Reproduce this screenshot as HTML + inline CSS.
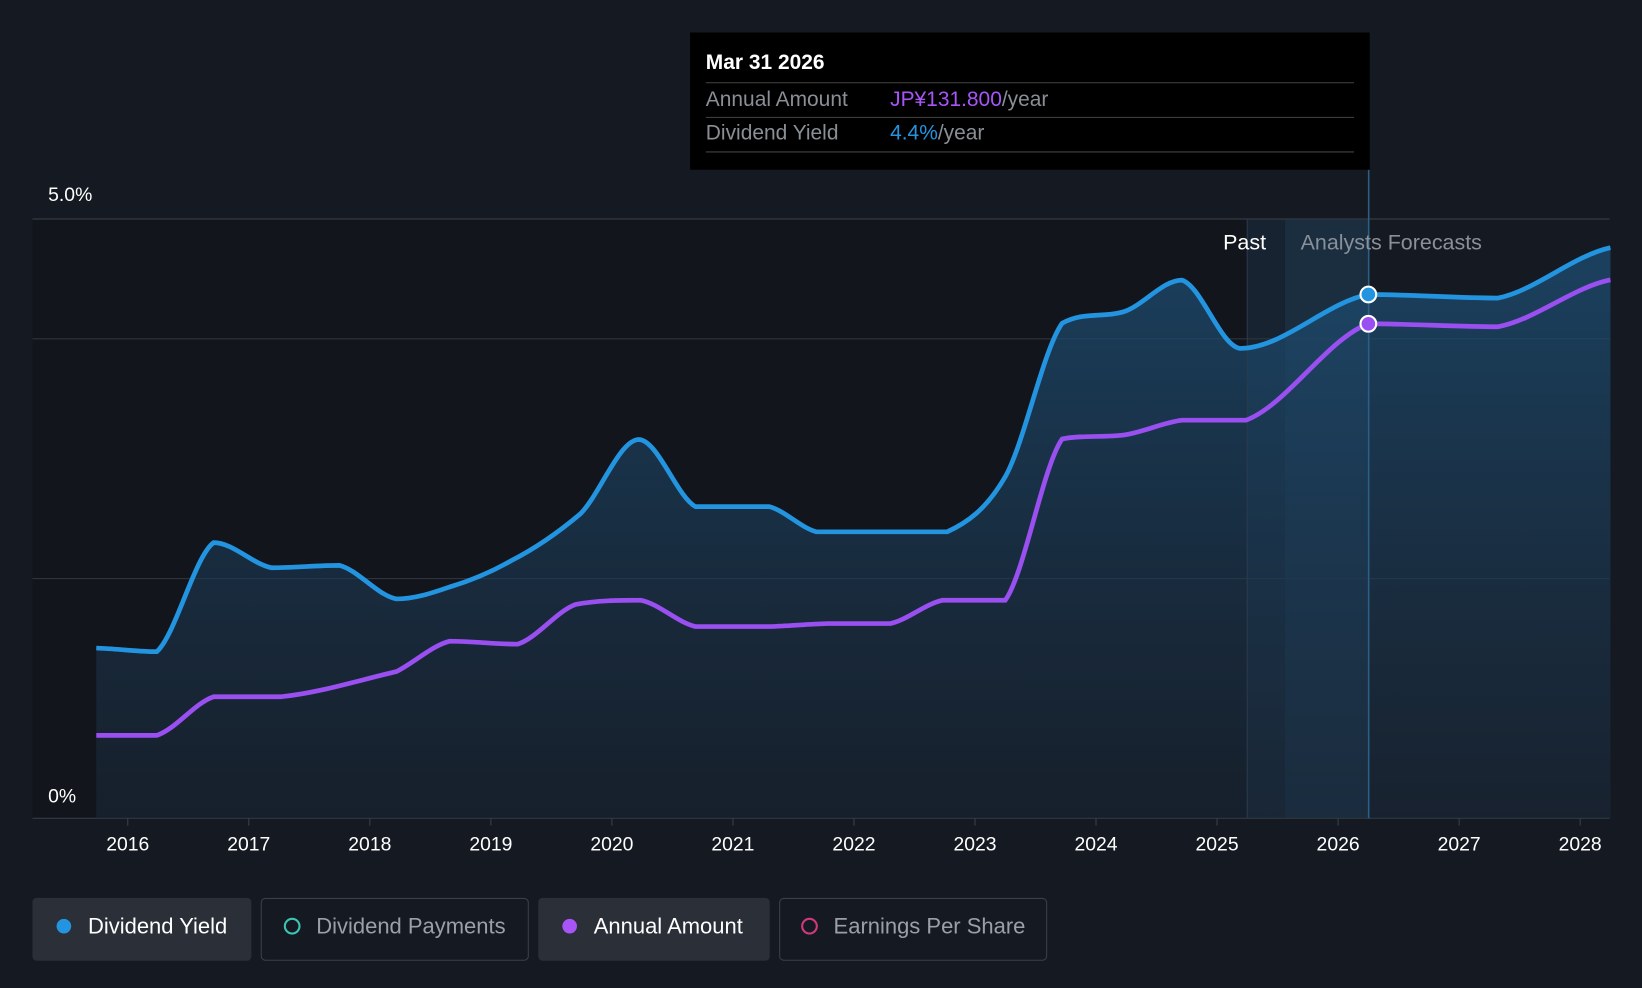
<!DOCTYPE html>
<html><head><meta charset="utf-8"><style>
html,body{margin:0;padding:0;background:#151a22;}
svg{display:block;font-family:"Liberation Sans",sans-serif;}
</style></head><body>
<svg id="chart" width="1642" height="988" viewBox="0 0 1568 943" preserveAspectRatio="none" xmlns="http://www.w3.org/2000/svg">
<defs>
<linearGradient id="fillg" x1="0" y1="0" x2="0" y2="1">
<stop offset="0" stop-color="#1d4e74" stop-opacity="0.75"/>
<stop offset="1" stop-color="#1b2a3c" stop-opacity="0.5"/>
</linearGradient>
</defs>
<rect x="0" y="0" width="1568" height="943" fill="#151a22"/>
<rect x="31" y="209" width="1160" height="572" fill="#12151b"/>
<rect x="1191" y="209" width="36" height="572" fill="#172330"/>
<rect x="1227" y="209" width="80" height="572" fill="#1b3349" opacity="0.8"/>
<g id="grid"></g>
<path id="area" fill="url(#fillg)"/>
<line x1="1191" y1="209" x2="1191" y2="781" stroke="#2a3b4d" stroke-width="1"/>
<line x1="1307" y1="162" x2="1307" y2="781" stroke="#2d5f86" stroke-width="1.5"/>
<path id="amtLine" fill="none" stroke="#9a4ff0" stroke-width="4.5"/>
<path id="yieldLine" fill="none" stroke="#2394e0" stroke-width="4.5"/>
<g id="axis"></g>
<text x="1168" y="238" fill="#ffffff" font-size="20.5">Past</text>
<text x="1242" y="238" fill="#8a9099" font-size="20.5">Analysts Forecasts</text>
<circle id="yDot" r="7.5" fill="#2394e0" stroke="#fff" stroke-width="2"/>
<circle id="aDot" r="7.5" fill="#9a4ff0" stroke="#fff" stroke-width="2"/>
<g>
<rect x="659" y="31" width="649" height="131" fill="#000"/>
<text x="674" y="66" fill="#fff" font-size="20" font-weight="bold">Mar 31 2026</text>
<line x1="674" y1="79" x2="1293" y2="79" stroke="#444"/>
<text x="674" y="101" fill="#8a8f96" font-size="20">Annual Amount</text>
<text x="850" y="101" font-size="20"><tspan fill="#a855f7">JP¥131.800</tspan><tspan fill="#8a8f96">/year</tspan></text>
<line x1="674" y1="112" x2="1293" y2="112" stroke="#444"/>
<text x="674" y="133" fill="#8a8f96" font-size="20">Dividend Yield</text>
<text x="850" y="133" font-size="20"><tspan fill="#2394e0">4.4%</tspan><tspan fill="#8a8f96">/year</tspan></text>
<line x1="674" y1="145" x2="1293" y2="145" stroke="#444"/>
</g>
<g>
<g><rect x="31" y="857" width="209" height="60" rx="4" fill="#2a2f38"/><circle cx="61" cy="884" r="7" fill="#2394e0"/><text x="84" y="891" fill="#fff" font-size="21">Dividend Yield</text></g>
<g><rect x="249.5" y="857.5" width="255" height="59" rx="4" fill="none" stroke="#3a3f48"/><circle cx="279" cy="884" r="7" fill="none" stroke="#3cc4b4" stroke-width="2"/><text x="302" y="891" fill="#9aa0a8" font-size="21">Dividend Payments</text></g>
<g><rect x="514" y="857" width="221" height="60" rx="4" fill="#2a2f38"/><circle cx="544" cy="884" r="7" fill="#a855f7"/><text x="567" y="891" fill="#fff" font-size="21">Annual Amount</text></g>
<g><rect x="744.5" y="857.5" width="255" height="59" rx="4" fill="none" stroke="#3a3f48"/><circle cx="773" cy="884" r="7" fill="none" stroke="#d0397a" stroke-width="2"/><text x="796" y="891" fill="#9aa0a8" font-size="21">Earnings Per Share</text></g>
</g>
</svg>
<script>
const years=[2015.74,2016.24,2016.71,2017.19,2017.75,2018.22,2018.66,2019.17,2019.74,2020.22,2020.69,2021.30,2021.69,2022.77,2023.25,2023.72,2024.24,2024.71,2025.19,2026.25,2027.32,2028.25];
const yieldVals=[1.42,1.39,2.30,2.09,2.11,1.83,1.93,2.15,2.54,3.16,2.60,2.60,2.39,2.39,2.85,4.13,4.23,4.49,3.92,4.37,4.34,4.76];
const amtYears=[2015.74,2016.24,2016.71,2017.27,2018.22,2018.66,2019.22,2019.70,2020.24,2020.69,2021.30,2021.78,2022.30,2022.73,2023.25,2023.72,2024.24,2024.71,2025.24,2026.25,2027.32,2028.25];
const amtVals=[22.1,22.1,32.4,32.4,39.1,47.2,46.4,57.0,58.1,51.1,51.1,51.9,51.9,58.1,58.1,101.1,102.2,106.1,106.1,131.8,131.0,143.5];
const yTicks=[0,2,4,5];
const xTicks=[2016,2017,2018,2019,2020,2021,2022,2023,2024,2025,2026,2027,2028];
const X=v=>122+(v-2016)*115.58;
const Y=v=>781-v*114.4;
const A=v=>781-v*3.581;
function smooth(p){let d=`M${p[0][0]},${p[0][1]}`;for(let i=0;i<p.length-1;i++){const p0=p[i-1]||p[i],p1=p[i],p2=p[i+1],p3=p[i+2]||p2;const t=0.16;let c1y=p1[1]+(p2[1]-p0[1])*t,c2y=p2[1]-(p3[1]-p1[1])*t;const lo=Math.min(p1[1],p2[1]),hi=Math.max(p1[1],p2[1]);c1y=Math.max(lo,Math.min(hi,c1y));c2y=Math.max(lo,Math.min(hi,c2y));d+=` C${p1[0]+(p2[0]-p1[0])/3},${c1y} ${p2[0]-(p2[0]-p1[0])/3},${c2y} ${p2[0]},${p2[1]}`;}return d;}
const yp=years.map((t,i)=>[X(t),Y(yieldVals[i])]);
const ap=amtYears.map((t,i)=>[X(t),A(amtVals[i])]);
const yd=smooth(yp);
document.getElementById('yieldLine').setAttribute('d',yd);
document.getElementById('amtLine').setAttribute('d',smooth(ap));
document.getElementById('area').setAttribute('d',yd+` L${yp[yp.length-1][0]},781 L${yp[0][0]},781 Z`);
const hi=years.indexOf(2026.25);
const yDot=document.getElementById('yDot');yDot.setAttribute('cx',X(2026.25));yDot.setAttribute('cy',Y(yieldVals[hi]));
const aDot=document.getElementById('aDot');aDot.setAttribute('cx',X(2026.25));aDot.setAttribute('cy',A(amtVals[amtYears.indexOf(2026.25)]));
const ns='http://www.w3.org/2000/svg';
const grid=document.getElementById('grid'),axis=document.getElementById('axis');
yTicks.forEach(v=>{const l=document.createElementNS(ns,'line');


l.setAttribute('x1',31);l.setAttribute('x2',1537);l.setAttribute('y1',Y(v));l.setAttribute('y2',Y(v));l.setAttribute('stroke',v===0?'#3a404a':'#2e343d');l.setAttribute('stroke-width',v===5?1.5:1);grid.appendChild(l);
if(v===0||v===5){const t=document.createElementNS(ns,'text');


t.setAttribute('x',46);t.setAttribute('y',Y(v)-(v===5?17:15));t.setAttribute('fill','#fff');t.setAttribute('font-size','18.5');t.textContent=v===5?'5.0%':'0%';axis.appendChild(t);}});
xTicks.forEach(v=>{const l=document.createElementNS(ns,'line');


l.setAttribute('x1',X(v));l.setAttribute('x2',X(v));l.setAttribute('y1',781);l.setAttribute('y2',788);l.setAttribute('stroke','#3a404a');axis.appendChild(l);
const t=document.createElementNS(ns,'text');


t.setAttribute('x',X(v));t.setAttribute('y',812);t.setAttribute('text-anchor','middle');t.setAttribute('fill','#fff');t.setAttribute('font-size','18.5');t.textContent=v;axis.appendChild(t);});
</script>
</body></html>
